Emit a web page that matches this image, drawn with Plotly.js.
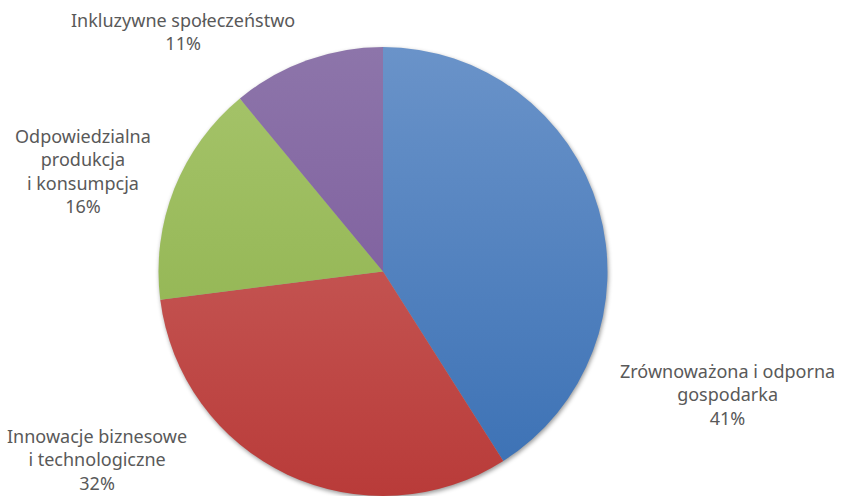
<!DOCTYPE html>
<html>
<head>
<meta charset="utf-8">
<script src="https://cdn.plot.ly/plotly-3.0.1.min.js"></script>
<style>
html,body{margin:0;padding:0;background:#fff;}
#chart{width:857px;height:496px;}
#gdefs{position:absolute;width:0;height:0;overflow:hidden;}
#chart .pielayer{filter:drop-shadow(1px 2px 2px rgba(0,0,0,0.4));}
</style>
</head>
<body>
<svg id="gdefs" xmlns="http://www.w3.org/2000/svg"><defs id="gradDefs"></defs></svg>
<div id="chart"></div>
<script>
// Data
var categories = [
  "Zrównoważona i odporna<br>gospodarka",
  "Innowacje biznesowe<br>i technologiczne",
  "Odpowiedzialna<br>produkcja<br>i konsumpcja",
  "Inkluzywne społeczeństwo"
];
var values = [41, 32, 16, 11];
var colorsTop = ["#6a93c9", "#cd6a67", "#a7c56c", "#8d75aa"];
var colorsBottom = ["#3a70b4", "#b93b39", "#89ae47", "#765297"];

// label anchor positions (layout only)
var labelPos = [
  {x: 727, y: 394},
  {x: 97, y: 459},
  {x: 83, y: 171},
  {x: 183, y: 32}
];

var total = values.reduce(function(a,b){return a+b;},0);
var W = 857, H = 496;
var pieTop = 47, pieBottom = 496;
var annotations = categories.map(function(c, i){
  return {
    text: c + "<br>" + Math.round(values[i]/total*100) + "%",
    x: labelPos[i].x / W, y: 1 - labelPos[i].y / H,
    xref: "paper", yref: "paper",
    xanchor: "center", yanchor: "middle",
    align: "center", showarrow: false,
    font: {family: "Noto Sans, Open Sans, sans-serif", size: 18, color: "#595959"}
  };
});

var trace = {
  type: "pie",
  labels: categories,
  values: values,
  sort: false,
  direction: "clockwise",
  rotation: 0,
  textinfo: "none",
  hoverinfo: "none",
  marker: {colors: colorsBottom, line: {width: 0}},
  domain: {x: [158/W, 608/W], y: [0, 1 - pieTop/H]},
  showlegend: false
};

var layout = {
  width: W, height: H,
  margin: {l: 0, r: 0, t: 0, b: 0},
  paper_bgcolor: "#ffffff",
  plot_bgcolor: "#ffffff",
  showlegend: false,
  annotations: annotations
};

// gradient definitions (top-to-bottom across the whole pie)
(function(){
  var ns = "http://www.w3.org/2000/svg";
  var defs = document.getElementById("gradDefs");
  var css = "";
  for (var i = 0; i < values.length; i++) {
    var g = document.createElementNS(ns, "linearGradient");
    g.setAttribute("id", "pg" + i);
    g.setAttribute("gradientUnits", "userSpaceOnUse");
    g.setAttribute("x1", "0"); g.setAttribute("x2", "0");
    g.setAttribute("y1", String(pieTop)); g.setAttribute("y2", String(pieBottom));
    var s1 = document.createElementNS(ns, "stop");
    s1.setAttribute("offset", "0"); s1.setAttribute("stop-color", colorsTop[i]);
    var s2 = document.createElementNS(ns, "stop");
    s2.setAttribute("offset", "1"); s2.setAttribute("stop-color", colorsBottom[i]);
    g.appendChild(s1); g.appendChild(s2);
    defs.appendChild(g);
    css += "#chart g.slice:nth-of-type(" + (i+1) + ") path.surface{fill:url(#pg" + i + ") !important;}\n";
  }
  var st = document.createElement("style");
  st.textContent = css;
  document.head.appendChild(st);
})();

Plotly.newPlot("chart", [trace], layout, {displayModeBar: false, staticPlot: true});
</script>
</body>
</html>
